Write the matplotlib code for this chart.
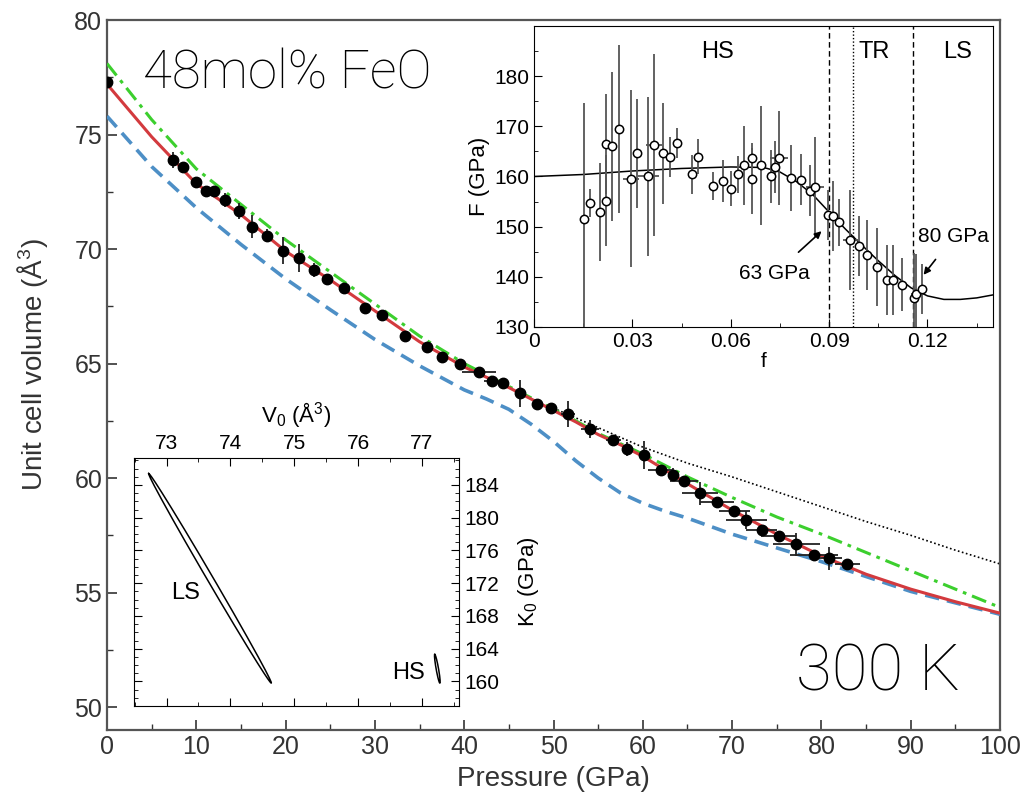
import numpy as np
import matplotlib.pyplot as plt
from matplotlib.ticker import MultipleLocator

plt.rcParams['font.family'] = ['Liberation Sans', 'DejaVu Sans']
plt.rcParams['mathtext.fontset'] = 'custom'
plt.rcParams['mathtext.rm'] = 'Liberation Sans'
plt.rcParams['mathtext.it'] = 'Liberation Sans:italic'

# ---- main panel: measured volumes ----
pressure = [0, 7.43, 8.47, 9.96, 11.09, 12.02, 13.22, 14.82, 16.2, 17.88, 19.74, 21.5,
            23.2, 24.67, 26.57, 28.89, 30.76, 33.37, 35.8, 37.5, 39.5, 41.7, 43.07, 44.38,
            46.3, 48.1, 49.7, 51.6, 54.1, 56.7, 58.2, 60.1, 62.0, 63.35, 64.6, 66.4,
            68.35, 70.25, 71.6, 73.3, 75.2, 77.2, 79.2, 80.8, 82.9]
volume = [77.28, 73.9, 73.57, 72.92, 72.55, 72.52, 72.15, 71.68, 70.98, 70.59, 69.93, 69.6,
          69.09, 68.67, 68.31, 67.43, 67.13, 66.22, 65.74, 65.28, 64.99, 64.62, 64.23, 64.14,
          63.7, 63.24, 63.07, 62.8, 62.15, 61.64, 61.28, 61.01, 60.36, 60.15, 59.86, 59.34,
          58.97, 58.58, 58.17, 57.74, 57.49, 57.1, 56.62, 56.5, 56.25]
p_err = [0, 0.3, 0.3, 0, 0, 0, 0, 0, 0, 0, 0, 0,
         0, 0, 0, 0, 0, 0, 0, 0, 0.5, 1.9, 0.8, 0,
         0, 0.5, 0, 0.8, 1.0, 0.8, 0, 0.4, 1.4, 0.5, 1.6, 2.0,
         1.9, 1.7, 2.3, 1.7, 2.0, 2.6, 2.7, 1.5, 1.4]
v_err = [0, 0.35, 0.2, 0.1, 0.1, 0.1, 0.3, 0.35, 0.5, 0.3, 0.6, 0.6,
         0.3, 0.1, 0.1, 0.1, 0.1, 0.1, 0.1, 0.1, 0.1, 0.1, 0.1, 0.1,
         0.6, 0.1, 0.1, 0.55, 0.4, 0.1, 0.3, 0.6, 0.1, 0.3, 0.1, 0.5,
         0.1, 0.1, 0.4, 0.1, 0.1, 0.5, 0.1, 0.5, 0.1]

# fitted curves
curve_p = [0, 5, 10, 15, 20, 25, 30, 35, 40, 45, 47.5, 50, 52.5, 55, 57.5, 60,
           65, 70, 75, 80, 85, 90, 95, 100]
fit_red = [77.2, 74.9, 72.85, 71.5, 69.9, 68.65, 67.3, 65.95, 64.85, 63.95, 63.45, 62.95,
           62.45, 61.9, 61.45, 60.95, 59.75, 58.6, 57.55, 56.6, 55.8, 55.15, 54.6, 54.1]
fit_green = [78.1, 75.65, 73.5, 71.95, 70.4, 69.0, 67.6, 66.2, 65.0, 64.0, 63.5, 63.0,
             62.5, 61.95, 61.5, 61.05, 60.05, 59.15, 58.3, 57.55, 56.75, 55.95, 55.15, 54.35]
blue_p = [0, 5, 10, 15, 20, 25, 30, 35, 40, 42.5, 45, 47.5, 50, 52.5, 55, 57.5, 60,
          62.5, 65, 70, 75, 80, 85, 90, 95, 100]
fit_blue = [75.8, 73.6, 71.8, 70.2, 68.7, 67.35, 66.05, 64.9, 63.85, 63.45, 63.0, 62.35,
            61.6, 60.75, 60.0, 59.35, 58.9, 58.55, 58.25, 57.55, 56.95, 56.35, 55.7, 55.05,
            54.55, 54.05]
hs_p = [50, 55, 60, 65, 70, 75, 80, 85, 90, 95, 100]
hs_v = [63.05, 62.2, 61.35, 60.65, 60.05, 59.4, 58.75, 58.1, 57.5, 56.85, 56.25]

# ---- upper inset: normalized stress vs Eulerian strain ----
f_strain = [0.0152, 0.0170, 0.0200, 0.0219, 0.0219, 0.0238, 0.0260, 0.0295, 0.0315, 0.0349,
            0.0367, 0.0393, 0.0416, 0.0435, 0.0481, 0.0500, 0.0547, 0.0576, 0.0602, 0.0621,
            0.0641, 0.0666, 0.0666, 0.0692, 0.0723, 0.0735, 0.0747, 0.0785, 0.0813, 0.0841,
            0.0856, 0.0897, 0.0912, 0.0931, 0.0965, 0.0992, 0.1016, 0.1047, 0.1076, 0.1096,
            0.1121, 0.1159, 0.1164, 0.1184]
F_stress = [151.6, 154.8, 152.9, 155.2, 166.5, 166.0, 169.5, 159.6, 164.6, 160.0,
            166.3, 164.6, 163.9, 166.7, 160.4, 163.9, 158.1, 159.1, 157.6, 160.4,
            162.2, 163.6, 159.6, 162.2, 160.0, 161.9, 163.7, 159.7, 159.4, 157.2,
            157.9, 152.4, 152.2, 150.9, 147.4, 146.1, 144.4, 142.0, 139.3, 139.3,
            138.4, 135.8, 136.6, 137.6]
F_err = [23.0, 2.8, 9.8, 9.0, 10.0, 14.8, 16.8, 17.6, 10.9, 15.9,
         18.2, 10.1, 4.0, 3.0, 3.8, 3.5, 2.8, 4.2, 3.4, 3.6,
         7.8, 2.0, 7.0, 11.8, 5.2, 5.2, 9.4, 6.5, 5.0, 5.0,
         10.0, 5.0, 7.0, 4.7, 10.0, 6.0, 7.0, 7.8, 7.0, 7.0,
         5.3, 9.0, 8.0, 5.0]
f_err = [0.0010, 0.0006, 0, 0, 0, 0.0010, 0.0010, 0.0024, 0, 0.0033,
         0.0024, 0, 0, 0, 0, 0, 0, 0, 0, 0,
         0, 0.0010, 0, 0, 0, 0, 0.0028, 0, 0, 0,
         0.0028, 0, 0.0012, 0, 0.0024, 0, 0, 0.0012, 0, 0,
         0, 0.0012, 0.0015, 0.0012]
fit_f = [0, 0.015, 0.03, 0.045, 0.06, 0.07, 0.075, 0.08, 0.085, 0.09, 0.095, 0.1,
         0.105, 0.11, 0.115, 0.12, 0.125, 0.13, 0.135, 0.14]
fit_F = [160.0, 160.4, 161.1, 161.6, 161.9, 161.8, 160.9, 159.0, 156.4, 152.9, 149.5, 146.3,
         143.2, 140.3, 137.8, 136.2, 135.5, 135.5, 135.8, 136.4]
f_hs_tr, f_mid, f_tr_ls = 0.09, 0.0973, 0.1157

# ---- lower inset: V0-K0 confidence ellipses ----
ls_center, ls_major, ls_minor = (73.68, 172.6), (-0.96, 12.8), (0.040, 0.185)
hs_center, hs_major, hs_minor = (77.24, 161.55), (-0.04, 1.75), (0.0185, 0.026)

light = ['Roboto', 'DejaVu Sans']

fig = plt.figure(figsize=(10.26, 8.10), dpi=100)
ax = fig.add_axes([0.1043, 0.0988, 0.8704, 0.8765])

ax.plot(hs_p, hs_v, ls=(0, (1, 1.5)), color='black', lw=1.2, zorder=2)
ax.plot(blue_p, fit_blue, ls=(0, (4, 2.2)), color='#4d8fc6', lw=2.6, zorder=3)
ax.plot(curve_p, fit_green, ls=(0, (5, 2, 1.2, 2)), color='#3ccf2e', lw=2.2, zorder=3)
ax.plot(curve_p, fit_red, color='#d33a3e', lw=2.2, zorder=4)
ax.errorbar(pressure, volume, xerr=p_err, yerr=v_err, fmt='o', color='black',
            ms=7.5, ecolor='#222222', elinewidth=1.3, capsize=0, zorder=5)

ax.set_xlim(0, 100)
ax.set_ylim(49, 80)
ax.xaxis.set_major_locator(MultipleLocator(10))
ax.xaxis.set_minor_locator(MultipleLocator(5))
ax.yaxis.set_major_locator(MultipleLocator(5))
ax.yaxis.set_minor_locator(MultipleLocator(2.5))
ax.tick_params(which='both', direction='in', labelsize=18, colors='#333333')
ax.tick_params(which='major', length=7, width=1.2)
ax.tick_params(which='minor', length=4, width=1.0)
for s in ax.spines.values():
    s.set_color('#555555')
    s.set_linewidth(1.6)
ax.set_xlabel('Pressure (GPa)', fontsize=20, color='#333333', labelpad=5)
ax.set_ylabel('Unit cell volume (Å$^3$)', fontsize=20, color='#333333')
ax.yaxis.set_label_coords(-0.064, 0.515)

ax.text(0.040, 0.904, '48mol% FeO', transform=ax.transAxes, fontsize=38,
        family=light, fontweight='light', va='baseline')
ax.text(0.7716, 0.056, '300 K', transform=ax.transAxes, fontsize=47,
        family=light, fontweight='light', va='baseline')

# upper inset
ins1 = fig.add_axes([0.5205, 0.5963, 0.4474, 0.3716])
ins1.plot(fit_f, fit_F, color='black', lw=1.1, zorder=2)
ins1.errorbar(f_strain, F_stress, xerr=f_err, yerr=F_err, fmt='o', mfc='white',
              mec='black', mew=1.1, ms=6, ecolor='#555555', elinewidth=1.3,
              capsize=0, zorder=3)
ins1.axvline(f_hs_tr, color='black', ls=(0, (4, 2.5)), lw=1)
ins1.axvline(f_mid, color='black', ls=(0, (1, 1.5)), lw=1)
ins1.axvline(f_tr_ls, color='black', ls=(0, (4, 2.5)), lw=1)
ins1.set_xlim(0, 0.14)
ins1.set_ylim(130, 190)
ins1.set_xticks([0, 0.03, 0.06, 0.09, 0.12])
ins1.set_xticklabels(['0', '0.03', '0.06', '0.09', '0.12'])
ins1.xaxis.set_minor_locator(MultipleLocator(0.015))
ins1.set_yticks([130, 140, 150, 160, 170, 180])
ins1.yaxis.set_minor_locator(MultipleLocator(5))
ins1.tick_params(which='both', direction='in', labelsize=15)
ins1.tick_params(which='major', length=6)
ins1.tick_params(which='minor', length=3)
ins1.set_xlabel('f', fontsize=15, labelpad=1)
ins1.set_ylabel('F (GPa)', fontsize=16, labelpad=3)
for name, fx in [('HS', 0.056), ('TR', 0.1036), ('LS', 0.1291)]:
    ins1.text(fx, 184.8, name, fontsize=17, ha='center', va='center')
ins1.annotate('63 GPa', xy=(0.0877, 149.1), xytext=(0.0734, 140.6), fontsize=15,
              ha='center', va='center',
              arrowprops=dict(arrowstyle='-|>', color='black', lw=1.2,
                              shrinkA=10, shrinkB=0, mutation_scale=10))
ins1.annotate('80 GPa', xy=(0.1188, 140.4), xytext=(0.128, 148.1), fontsize=15,
              ha='center', va='center',
              arrowprops=dict(arrowstyle='-|>', color='black', lw=1.2,
                              shrinkA=10, shrinkB=0, mutation_scale=10))

# lower inset
ins2 = fig.add_axes([0.1306, 0.1284, 0.3168, 0.3062])
t = np.linspace(0, 2 * np.pi, 200)
for c, a, b in [(ls_center, ls_major, ls_minor), (hs_center, hs_major, hs_minor)]:
    ins2.plot(c[0] + a[0] * np.cos(t) + b[0] * np.sin(t),
              c[1] + a[1] * np.cos(t) + b[1] * np.sin(t), color='black', lw=1.1)
ins2.text(73.29, 170.8, 'LS', fontsize=17, ha='center', va='center')
ins2.text(76.79, 161.0, 'HS', fontsize=17, ha='center', va='center')
ins2.set_xlim(72.49, 77.58)
ins2.set_ylim(157.0, 187.3)
ins2.xaxis.set_major_locator(MultipleLocator(1))
ins2.xaxis.set_minor_locator(MultipleLocator(0.5))
ins2.yaxis.set_major_locator(MultipleLocator(4))
ins2.yaxis.set_minor_locator(MultipleLocator(1))
ins2.xaxis.tick_top()
ins2.yaxis.tick_right()
ins2.xaxis.set_label_position('top')
ins2.yaxis.set_label_position('right')
ins2.tick_params(which='both', direction='in', top=True, bottom=True, left=True,
                 right=True, labelsize=15)
ins2.tick_params(which='major', length=6)
ins2.tick_params(which='minor', length=3)
ins2.set_xlabel('V$_0$ (Å$^3$)', fontsize=16, labelpad=8)
ins2.set_ylabel('K$_0$ (GPa)', fontsize=16, labelpad=12)

fig.savefig('out.png', dpi=100)
